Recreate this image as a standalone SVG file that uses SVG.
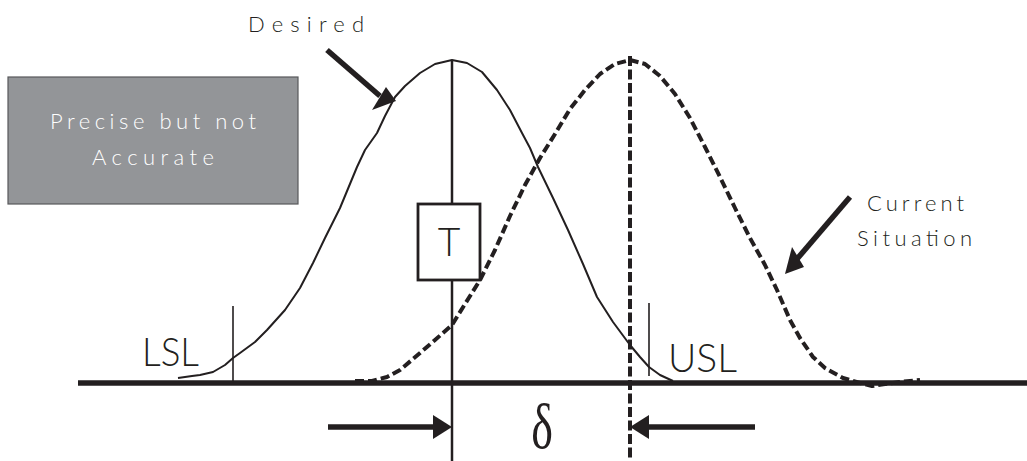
<svg xmlns="http://www.w3.org/2000/svg" width="1027" height="461" viewBox="0 0 1027 461">
  <style>
    .lbl { font-family: Lato, "Liberation Sans", sans-serif; font-weight: 300; fill: #231f20; }
    .spaced { font-size: 22px; }
    .big { font-size: 39px; }
    .ink { stroke: #231f20; fill: none; }
    .head { fill: #231f20; stroke: none; }
  </style>
  <rect width="1027" height="461" fill="#ffffff"/>

  <g id="box-precise">
    <rect x="8" y="77" width="290" height="127" fill="#939598" stroke="#58595b" stroke-width="1.2"/>
    <text class="lbl spaced" x="50" y="129" textLength="206" lengthAdjust="spacing" style="fill:#ffffff">Precise but not</text>
    <text class="lbl spaced" x="92" y="165" textLength="122" lengthAdjust="spacing" style="fill:#ffffff">Accurate</text>
  </g>

  <g id="label-desired">
    <text class="lbl spaced" x="248" y="32" textLength="116" lengthAdjust="spacing">Desired</text>
  </g>

  <g id="label-current">
    <text class="lbl spaced" x="867" y="211" textLength="97" lengthAdjust="spacing">Current</text>
    <text class="lbl spaced" x="857" y="246" textLength="115" lengthAdjust="spacing">Situation</text>
  </g>

  <g id="axis">
    <line x1="78" y1="383" x2="1027" y2="383" stroke="#231f20" stroke-width="5.5"/>
  </g>

  <g id="curve-desired">
    <polyline class="ink" stroke-width="2" stroke-linejoin="round" points="178,378 192,376 200,375 213,372 225,365 233,358 240,353 255,342 267,330 285,310 300,288 313,263 325,238 340,208 357,167 365,150 377,133 385,116 395,97 405,86 420,73 435,64 452,60 467,63 482,72 497,90 510,110 522,133 530,148 538,167 553,198 568,230 583,264 597,297 613,322 630,345 640,357 649,367 660,375 673,381"/>
  </g>

  <g id="curve-current">
    <polyline class="ink" stroke-width="4" stroke-dasharray="9 4" stroke-linejoin="round" points="355,381 372,381 387,377 400,370 420,353 435,340 452,325 465,304 480,280 495,250 510,216 525,185 540,158 555,134 570,109 585,90 600,74 615,64 630,60 645,64 660,76 675,94 690,118 705,147 720,177 735,208 750,238 765,265 777,290 790,320 800,338 813,357 825,368 843,378 860,383 872,386 885,384 900,382 920,380"/>
  </g>

  <g id="target">
    <line class="ink" x1="452" y1="60" x2="452" y2="204" stroke-width="2.5"/>
    <line class="ink" x1="452" y1="280" x2="452" y2="461" stroke-width="2.5"/>
    <rect x="418" y="204" width="62" height="76" fill="#ffffff" stroke="#231f20" stroke-width="2.8"/>
    <text class="lbl big" x="449" y="256" text-anchor="middle">T</text>
  </g>

  <g id="mean-current">
    <line class="ink" x1="630" y1="56" x2="630" y2="461" stroke-width="4" stroke-dasharray="10 3.5"/>
  </g>

  <g id="lsl">
    <line class="ink" x1="233" y1="306" x2="233" y2="383" stroke-width="1.6"/>
    <text class="lbl big" x="142" y="366" textLength="57" lengthAdjust="spacingAndGlyphs">LSL</text>
  </g>

  <g id="usl">
    <line class="ink" x1="649" y1="303" x2="649" y2="376" stroke-width="1.6"/>
    <text class="lbl big" x="668" y="372" textLength="69" lengthAdjust="spacingAndGlyphs">USL</text>
  </g>

  <g id="delta">
    <text transform="translate(542,448) scale(0.72,1)" text-anchor="middle" style="font-family:'Liberation Serif',serif;font-size:64px;fill:#231f20">δ</text>
  </g>

  <g id="connectors">
    <line class="ink" x1="327" y1="50" x2="380" y2="96" stroke-width="5.5"/>
    <polygon class="head" points="372,110 386,87 396,101"/>
    <line class="ink" x1="850" y1="197" x2="797" y2="259" stroke-width="5.5"/>
    <polygon class="head" points="792,247 804,267 785,274"/>
    <line class="ink" x1="328" y1="427" x2="436" y2="427" stroke-width="5.5"/>
    <polygon class="head" points="452,427 433,415 433,439"/>
    <line class="ink" x1="755" y1="427" x2="646" y2="427" stroke-width="5.5"/>
    <polygon class="head" points="630,427 649,415 649,439"/>
  </g>
</svg>
